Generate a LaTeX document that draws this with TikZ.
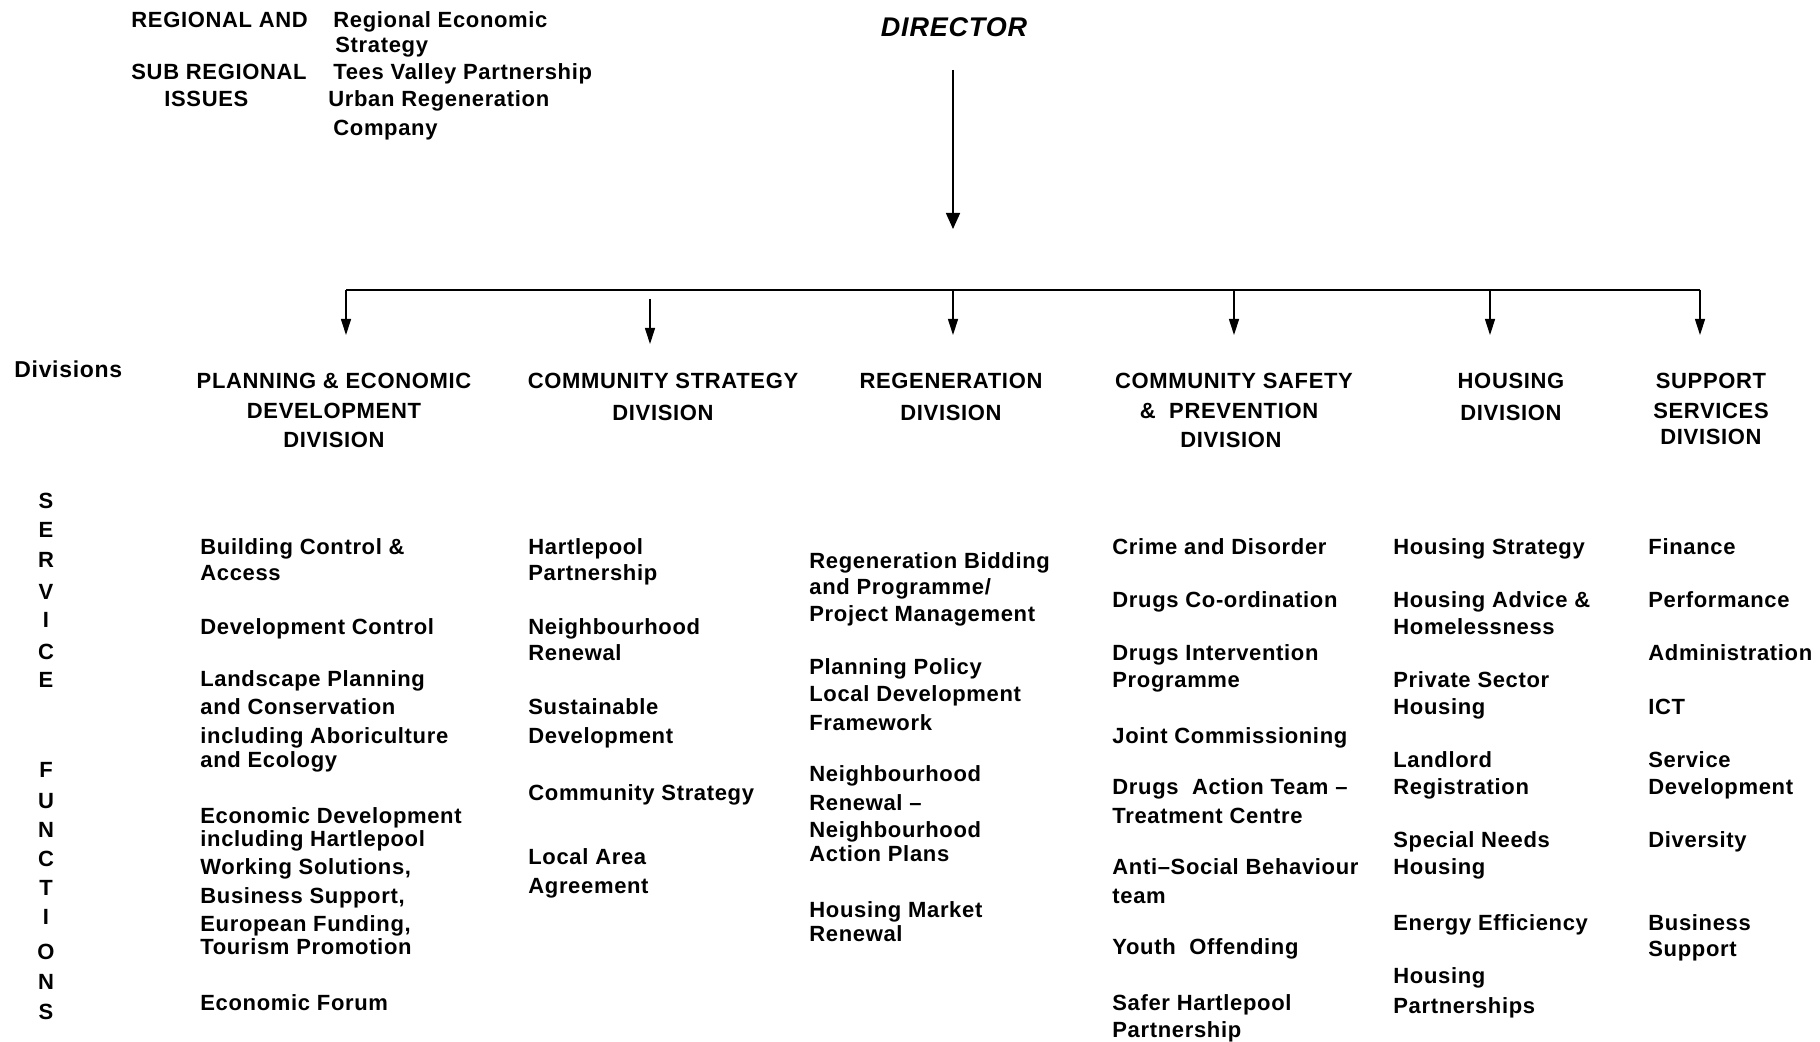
\documentclass[tikz,border=0pt]{standalone}
\usepackage{fontspec}
\setmainfont{Liberation Sans}[LetterSpace=3]
\usetikzlibrary{arrows.meta}
\newcommand\txtfont{\fontsize{11}{12}\selectfont\bfseries}
\tikzset{
  item/.style={anchor=west, inner sep=0pt, text height=7.9pt, text depth=0pt, font=\txtfont},
  head/.style={anchor=center, inner sep=0pt, text height=7.9pt, text depth=0pt, font=\txtfont},
  vlet/.style={anchor=center, inner sep=0pt, text height=7.9pt, text depth=0pt, font=\fontsize{11}{12}\selectfont\bfseries},
  busline/.style={line width=1.3pt},
  drop/.style={line width=0.6pt, -{Triangle[length=8pt,width=5pt]}},
  dirarrow/.style={line width=0.8pt, -{Triangle[length=8pt,width=7pt]}},
}
\begin{document}
\begin{tikzpicture}[x=0.5pt,y=-0.5pt]
\useasboundingbox (0,0) rectangle (1820,1042);

% top-left block
\node[item] (rg1) at (131,20) {REGIONAL AND};
\node[item] (rg2) at (131,72) {SUB REGIONAL};
\node[item] (rg3) at (164,99) {ISSUES};
\node[item] (ri1) at (333,20) {Regional Economic};
\node[item] (ri2) at (335,45) {Strategy};
\node[item] (ri3) at (333,72) {Tees Valley Partnership};
\node[item] (ri4) at (328,99) {Urban Regeneration};
\node[item] (ri5) at (333,128) {Company};

% director
\node[anchor=center, inner sep=0pt, text height=9.7pt, text depth=0pt,
      font=\fontsize{13.5}{14}\selectfont\bfseries\itshape] (dir) at (954,27) {DIRECTOR};
\coordinate (dirS) at (953,70);
\coordinate (dirE) at (953,229);
\draw[dirarrow] (dirS) -- (dirE);

% bus and drops
\coordinate (busL) at (346,290);
\coordinate (busR) at (1700,290);
\draw[busline] (busL) -- (busR);
\coordinate (b1) at (346,290);  \coordinate (t1) at (346,335);
\coordinate (b2) at (650,299);  \coordinate (t2) at (650,344);
\coordinate (b3) at (953,290);  \coordinate (t3) at (953,335);
\coordinate (b4) at (1234,290); \coordinate (t4) at (1234,335);
\coordinate (b5) at (1490,290); \coordinate (t5) at (1490,335);
\coordinate (b6) at (1700,290); \coordinate (t6) at (1700,335);
\draw[drop] (b1) -- (t1);
\draw[drop] (b2) -- (t2);
\draw[drop] (b3) -- (t3);
\draw[drop] (b4) -- (t4);
\draw[drop] (b5) -- (t5);
\draw[drop] (b6) -- (t6);

% divisions label
\node[item, font=\fontsize{11.5}{12}\selectfont\bfseries] (divl) at (14,370) {Divisions};

% headings
\node[head] (h1a) at (334,381) {PLANNING \& ECONOMIC};
\node[head] (h1b) at (334,411) {DEVELOPMENT};
\node[head] (h1c) at (334,440) {DIVISION};
\node[head] (h2a) at (663,381) {COMMUNITY STRATEGY};
\node[head] (h2b) at (663,413) {DIVISION};
\node[head] (h3a) at (951,381) {REGENERATION};
\node[head] (h3b) at (951,413) {DIVISION};
\node[head] (h4a) at (1234,381) {COMMUNITY SAFETY};
\node[head] (h4b) at (1229,411) {\&\ \ PREVENTION};
\node[head] (h4c) at (1231,440) {DIVISION};
\node[head] (h5a) at (1511,381) {HOUSING};
\node[head] (h5b) at (1511,413) {DIVISION};
\node[head] (h6a) at (1711,381) {SUPPORT};
\node[head] (h6b) at (1711,411) {SERVICES};
\node[head] (h6c) at (1711,437) {DIVISION};

% SERVICE FUNCTIONS
\node[vlet] (v1) at (46,501) {S};
\node[vlet] (v2) at (46,530) {E};
\node[vlet] (v3) at (46,560) {R};
\node[vlet] (v4) at (46,592) {V};
\node[vlet] (v5) at (46,620) {I};
\node[vlet] (v6) at (46,652) {C};
\node[vlet] (v7) at (46,680) {E};
\node[vlet] (v8) at (46,770) {F};
\node[vlet] (v9) at (46,801) {U};
\node[vlet] (v10) at (46,830) {N};
\node[vlet] (v11) at (46,859) {C};
\node[vlet] (v12) at (46,888) {T};
\node[vlet] (v13) at (46,917) {I};
\node[vlet] (v14) at (46,952) {O};
\node[vlet] (v15) at (46,982) {N};
\node[vlet] (v16) at (46,1012) {S};

% column 1
\node[item] (c1a) at (200,547) {Building Control \&};
\node[item] (c1b) at (200,573) {Access};
\node[item] (c1c) at (200,627) {Development Control};
\node[item] (c1d) at (200,679) {Landscape Planning};
\node[item] (c1e) at (200,707) {and Conservation};
\node[item] (c1f) at (200,736) {including Aboriculture};
\node[item] (c1g) at (200,760) {and Ecology};
\node[item] (c1h) at (200,816) {Economic Development};
\node[item] (c1i) at (200,839) {including Hartlepool};
\node[item] (c1j) at (200,867) {Working Solutions,};
\node[item] (c1k) at (200,896) {Business Support,};
\node[item] (c1l) at (200,924) {European Funding,};
\node[item] (c1m) at (200,947) {Tourism Promotion};
\node[item] (c1n) at (200,1003) {Economic Forum};

% column 2
\node[item] (c2a) at (528,547) {Hartlepool};
\node[item] (c2b) at (528,573) {Partnership};
\node[item] (c2c) at (528,627) {Neighbourhood};
\node[item] (c2d) at (528,653) {Renewal};
\node[item] (c2e) at (528,707) {Sustainable};
\node[item] (c2f) at (528,736) {Development};
\node[item] (c2g) at (528,793) {Community Strategy};
\node[item] (c2h) at (528,857) {Local Area};
\node[item] (c2i) at (528,886) {Agreement};

% column 3
\node[item] (c3a) at (809,561) {Regeneration Bidding};
\node[item] (c3b) at (809,587) {and Programme/};
\node[item] (c3c) at (809,614) {Project Management};
\node[item] (c3d) at (809,667) {Planning Policy};
\node[item] (c3e) at (809,694) {Local Development};
\node[item] (c3f) at (809,723) {Framework};
\node[item] (c3g) at (809,774) {Neighbourhood};
\node[item] (c3h) at (809,803) {Renewal –};
\node[item] (c3i) at (809,830) {Neighbourhood};
\node[item] (c3j) at (809,854) {Action Plans};
\node[item] (c3k) at (809,910) {Housing Market};
\node[item] (c3l) at (809,934) {Renewal};

% column 4
\node[item] (c4a) at (1112,547) {Crime and Disorder};
\node[item] (c4b) at (1112,600) {Drugs Co-ordination};
\node[item] (c4c) at (1112,653) {Drugs Intervention};
\node[item] (c4d) at (1112,680) {Programme};
\node[item] (c4e) at (1112,736) {Joint Commissioning};
\node[item] (c4f) at (1112,787) {Drugs\ \ Action Team –};
\node[item] (c4g) at (1112,816) {Treatment Centre};
\node[item] (c4h) at (1112,867) {Anti–Social Behaviour};
\node[item] (c4i) at (1112,896) {team};
\node[item] (c4j) at (1112,947) {Youth\ \ Offending};
\node[item] (c4k) at (1112,1003) {Safer Hartlepool};
\node[item] (c4l) at (1112,1030) {Partnership};

% column 5
\node[item] (c5a) at (1393,547) {Housing Strategy};
\node[item] (c5b) at (1393,600) {Housing Advice \&};
\node[item] (c5c) at (1393,627) {Homelessness};
\node[item] (c5d) at (1393,680) {Private Sector};
\node[item] (c5e) at (1393,707) {Housing};
\node[item] (c5f) at (1393,760) {Landlord};
\node[item] (c5g) at (1393,787) {Registration};
\node[item] (c5h) at (1393,840) {Special Needs};
\node[item] (c5i) at (1393,867) {Housing};
\node[item] (c5j) at (1393,923) {Energy Efficiency};
\node[item] (c5k) at (1393,976) {Housing};
\node[item] (c5l) at (1393,1006) {Partnerships};

% column 6
\node[item] (c6a) at (1648,547) {Finance};
\node[item] (c6b) at (1648,600) {Performance};
\node[item] (c6c) at (1648,653) {Administration};
\node[item] (c6d) at (1648,707) {ICT};
\node[item] (c6e) at (1648,760) {Service};
\node[item] (c6f) at (1648,787) {Development};
\node[item] (c6g) at (1648,840) {Diversity};
\node[item] (c6h) at (1648,923) {Business};
\node[item] (c6i) at (1648,949) {Support};
\end{tikzpicture}
\end{document}
